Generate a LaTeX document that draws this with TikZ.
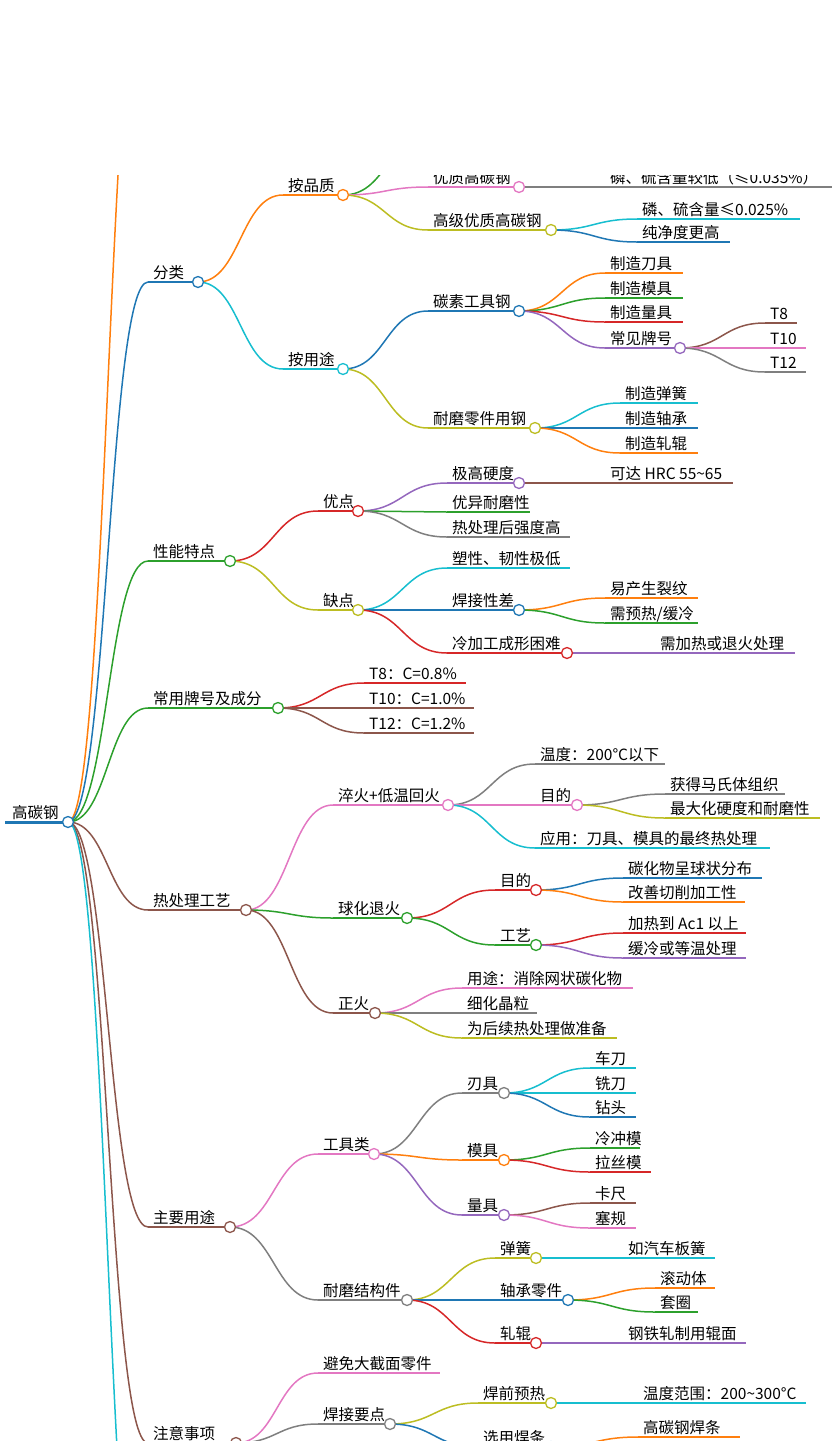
\documentclass[tikz,border=0pt]{standalone}
\usepackage{fontspec}
\newfontfamily\cjk{Noto Sans CJK SC}
\usetikzlibrary{calc}
\definecolor{cB}{HTML}{1F77B4}\definecolor{cO}{HTML}{FF7F0E}\definecolor{cG}{HTML}{2CA02C}
\definecolor{cR}{HTML}{D62728}\definecolor{cP}{HTML}{9467BD}\definecolor{cN}{HTML}{8C564B}
\definecolor{cK}{HTML}{E377C2}\definecolor{cY}{HTML}{7F7F7F}\definecolor{cL}{HTML}{BCBD22}
\definecolor{cC}{HTML}{17BECF}
\newcommand\mn[6]{\coordinate (#1s) at (#2,#3); \coordinate (#1e) at (#4,#3);
 \draw[#5,ln] (#1s)--(#1e);
 \node[lbl] (#1) at (#2+5,#3-4) {#6};}
\newcommand\me[3]{\draw[#3,ln] let \p1=(#1e),\p2=(#2s) in (\p1) .. controls ({(\x1+\x2)/2},\y1) and ({(\x1+\x2)/2},\y2) .. (\p2);}
\newcommand\mc[2]{\node[dot,draw=#2] (#1c) at (#1e) {};}
\begin{document}
\begin{tikzpicture}[x=1pt,y=-1pt,
 ln/.style={line width=1.5pt},
 lbl/.style={font=\cjk\fontsize{15.5}{18}\selectfont, anchor=base west, inner sep=0},
 dot/.style={circle,fill=white,line width=1.3pt,minimum size=11pt,inner sep=0}]
\useasboundingbox (0,0) rectangle (837,1441);
\clip (0,175) rectangle (837,1441);
% nodes
\coordinate (re) at (68,822);
\draw[cB,line width=3pt] (5,822)--(68,822);
\node[lbl] (r) at (12,818) {高碳钢};
\coordinate (h1s) at (148,-60); \coordinate (h2s) at (148,1700);
\mn{a}{148}{282}{198}{cB}{分类}
\mn{aa}{283}{195}{343}{cO}{按品质}
\coordinate (h3s) at (428,140);
\mn{aa2}{428}{187}{519}{cK}{优质高碳钢}
\mn{aa2a}{605}{187}{832}{cY}{磷、硫含量较低（≤0.035\%）}
\mn{aa3}{428}{230}{551}{cL}{高级优质高碳钢}
\mn{aa3a}{637}{219}{800}{cC}{磷、硫含量≤0.025\%}
\mn{aa3b}{637}{242}{730}{cB}{纯净度更高}
\mn{ab}{283}{369}{343}{cC}{按用途}
\mn{ab1}{428}{311}{519}{cB}{碳素工具钢}
\mn{ab1a}{605}{273}{683}{cO}{制造刀具}
\mn{ab1b}{605}{298}{683}{cG}{制造模具}
\mn{ab1c}{605}{322}{683}{cR}{制造量具}
\mn{ab1d}{605}{348}{680}{cP}{常见牌号}
\mn{t8}{765}{323}{797}{cN}{T8}
\mn{t10}{765}{348}{806}{cK}{T10}
\mn{t12}{765}{372}{806}{cY}{T12}
\mn{ab2}{428}{428}{535}{cL}{耐磨零件用钢}
\mn{ab2a}{620}{403}{698}{cC}{制造弹簧}
\mn{ab2b}{620}{428}{698}{cB}{制造轴承}
\mn{ab2c}{620}{453}{698}{cO}{制造轧辊}
\mn{b}{148}{561}{230}{cG}{性能特点}
\mn{ba}{318}{511}{358}{cR}{优点}
\mn{ba1}{447}{483}{519}{cP}{极高硬度}
\mn{ba1a}{605}{483}{733}{cN}{可达 HRC 55\textasciitilde65}
\mn{ba2}{447}{512}{530}{cG}{优异耐磨性}
\mn{ba3}{447}{537}{570}{cY}{热处理后强度高}
\mn{bb}{318}{610}{358}{cL}{缺点}
\mn{bb1}{447}{568}{570}{cC}{塑性、韧性极低}
\mn{bb2}{447}{610}{519}{cB}{焊接性差}
\mn{bb2a}{605}{598}{698}{cO}{易产生裂纹}
\mn{bb2b}{605}{623}{698}{cG}{需预热/缓冷}
\mn{bb3}{447}{653}{567}{cR}{冷加工成形困难}
\mn{bb3a}{655}{653}{795}{cP}{需加热或退火处理}
\mn{c}{148}{708}{278}{cG}{常用牌号及成分}
\mn{c1}{364}{683}{466}{cR}{T8：C=0.8\%}
\mn{c2}{364}{708}{474}{cN}{T10：C=1.0\%}
\mn{c3}{364}{733}{474}{cN}{T12：C=1.2\%}
\mn{d}{148}{910}{246}{cN}{热处理工艺}
\mn{da}{333}{805}{448}{cK}{淬火+低温回火}
\mn{da1}{535}{764}{665}{cY}{温度：200°C以下}
\mn{da2}{535}{805}{577}{cK}{目的}
\mn{da2a}{665}{794}{785}{cY}{获得马氏体组织}
\mn{da2b}{665}{818}{820}{cL}{最大化硬度和耐磨性}
\mn{da3}{535}{848}{770}{cC}{应用：刀具、模具的最终热处理}
\mn{db}{333}{918}{407}{cG}{球化退火}
\mn{db1}{495}{890}{536}{cR}{目的}
\mn{db1a}{623}{878}{762}{cB}{碳化物呈球状分布}
\mn{db1b}{623}{902}{745}{cO}{改善切削加工性}
\mn{db2}{495}{945}{536}{cG}{工艺}
\mn{db2a}{623}{933}{746}{cR}{加热到 Ac1 以上}
\mn{db2b}{623}{958}{746}{cP}{缓冷或等温处理}
\mn{dc}{333}{1013}{375}{cN}{正火}
\mn{dc1}{462}{988}{633}{cK}{用途：消除网状碳化物}
\mn{dc2}{462}{1013}{537}{cY}{细化晶粒}
\mn{dc3}{462}{1038}{617}{cL}{为后续热处理做准备}
\mn{e}{148}{1227}{230}{cN}{主要用途}
\mn{ea}{318}{1154}{374}{cK}{工具类}
\mn{ea1}{462}{1093}{504}{cY}{刃具}
\mn{ea1a}{590}{1068}{636}{cC}{车刀}
\mn{ea1b}{590}{1093}{636}{cC}{铣刀}
\mn{ea1c}{590}{1117}{636}{cB}{钻头}
\mn{ea2}{462}{1160}{504}{cO}{模具}
\mn{ea2a}{590}{1148}{640}{cG}{冷冲模}
\mn{ea2b}{590}{1172}{651}{cR}{拉丝模}
\mn{ea3}{462}{1215}{504}{cP}{量具}
\mn{ea3a}{590}{1203}{636}{cN}{卡尺}
\mn{ea3b}{590}{1228}{636}{cK}{塞规}
\mn{eb}{318}{1300}{407}{cY}{耐磨结构件}
\mn{eb1}{495}{1258}{536}{cL}{弹簧}
\mn{eb1a}{623}{1258}{715}{cC}{如汽车板簧}
\mn{eb2}{495}{1300}{568}{cB}{轴承零件}
\mn{eb2a}{655}{1288}{715}{cO}{滚动体}
\mn{eb2b}{655}{1312}{698}{cG}{套圈}
\mn{eb3}{495}{1343}{536}{cR}{轧辊}
\mn{eb3a}{623}{1343}{746}{cP}{钢铁轧制用辊面}
\mn{f}{148}{1443}{236}{cN}{注意事项}
\mn{fa}{318}{1373}{440}{cK}{避免大截面零件}
\mn{fb}{318}{1424}{390}{cY}{焊接要点}
\mn{fb1}{478}{1403}{551}{cL}{焊前预热}
\mn{fb1a}{638}{1403}{806}{cC}{温度范围：200\textasciitilde300°C}
\mn{fb2}{478}{1447}{551}{cB}{选用焊条}
\mn{fb2a}{638}{1437}{740}{cO}{高碳钢焊条}
% edges
\me{r}{h1}{cO}\me{r}{a}{cB}\me{r}{b}{cG}\me{r}{c}{cG}\me{r}{d}{cN}\me{r}{e}{cN}\me{r}{f}{cN}\me{r}{h2}{cC}
\me{a}{aa}{cO}\me{a}{ab}{cC}
\me{aa}{h3}{cG}\me{aa}{aa2}{cK}\me{aa}{aa3}{cL}
\me{aa2}{aa2a}{cY}\me{aa3}{aa3a}{cC}\me{aa3}{aa3b}{cB}
\me{ab}{ab1}{cB}\me{ab}{ab2}{cL}
\me{ab1}{ab1a}{cO}\me{ab1}{ab1b}{cG}\me{ab1}{ab1c}{cR}\me{ab1}{ab1d}{cP}
\me{ab1d}{t8}{cN}\me{ab1d}{t10}{cK}\me{ab1d}{t12}{cY}
\me{ab2}{ab2a}{cC}\me{ab2}{ab2b}{cB}\me{ab2}{ab2c}{cO}
\me{b}{ba}{cR}\me{b}{bb}{cL}
\me{ba}{ba1}{cP}\me{ba}{ba2}{cG}\me{ba}{ba3}{cY}\me{ba1}{ba1a}{cN}
\me{bb}{bb1}{cC}\me{bb}{bb2}{cB}\me{bb}{bb3}{cR}
\me{bb2}{bb2a}{cO}\me{bb2}{bb2b}{cG}\me{bb3}{bb3a}{cP}
\me{c}{c1}{cR}\me{c}{c2}{cN}\me{c}{c3}{cN}
\me{d}{da}{cK}\me{d}{db}{cG}\me{d}{dc}{cN}
\me{da}{da1}{cY}\me{da}{da2}{cK}\me{da}{da3}{cC}
\me{da2}{da2a}{cY}\me{da2}{da2b}{cL}
\me{db}{db1}{cR}\me{db}{db2}{cG}
\me{db1}{db1a}{cB}\me{db1}{db1b}{cO}\me{db2}{db2a}{cR}\me{db2}{db2b}{cP}
\me{dc}{dc1}{cK}\me{dc}{dc2}{cY}\me{dc}{dc3}{cL}
\me{e}{ea}{cK}\me{e}{eb}{cY}
\me{ea}{ea1}{cY}\me{ea}{ea2}{cO}\me{ea}{ea3}{cP}
\me{ea1}{ea1a}{cC}\me{ea1}{ea1b}{cC}\me{ea1}{ea1c}{cB}
\me{ea2}{ea2a}{cG}\me{ea2}{ea2b}{cR}\me{ea3}{ea3a}{cN}\me{ea3}{ea3b}{cK}
\me{eb}{eb1}{cL}\me{eb}{eb2}{cB}\me{eb}{eb3}{cR}
\me{eb1}{eb1a}{cC}\me{eb2}{eb2a}{cO}\me{eb2}{eb2b}{cG}\me{eb3}{eb3a}{cP}
\me{f}{fa}{cK}\me{f}{fb}{cY}
\me{fb}{fb1}{cL}\me{fb}{fb2}{cB}\me{fb1}{fb1a}{cC}\me{fb2}{fb2a}{cO}
% circles
\node[dot,draw=cB] (rc) at (re) {};
\mc{a}{cB}\mc{aa}{cO}\mc{aa2}{cK}\mc{aa3}{cL}\mc{ab}{cC}\mc{ab1}{cB}\mc{ab1d}{cP}\mc{ab2}{cL}
\mc{b}{cG}\mc{ba}{cR}\mc{ba1}{cP}\mc{bb}{cL}\mc{bb2}{cB}\mc{bb3}{cR}\mc{c}{cG}
\mc{d}{cN}\mc{da}{cK}\mc{da2}{cK}\mc{db}{cG}\mc{db1}{cR}\mc{db2}{cG}\mc{dc}{cN}
\mc{e}{cN}\mc{ea}{cK}\mc{ea1}{cY}\mc{ea2}{cO}\mc{ea3}{cP}\mc{eb}{cY}\mc{eb1}{cL}\mc{eb2}{cB}\mc{eb3}{cR}
\mc{f}{cN}\mc{fb}{cY}\mc{fb1}{cL}\mc{fb2}{cB}
\end{tikzpicture}
\end{document}
